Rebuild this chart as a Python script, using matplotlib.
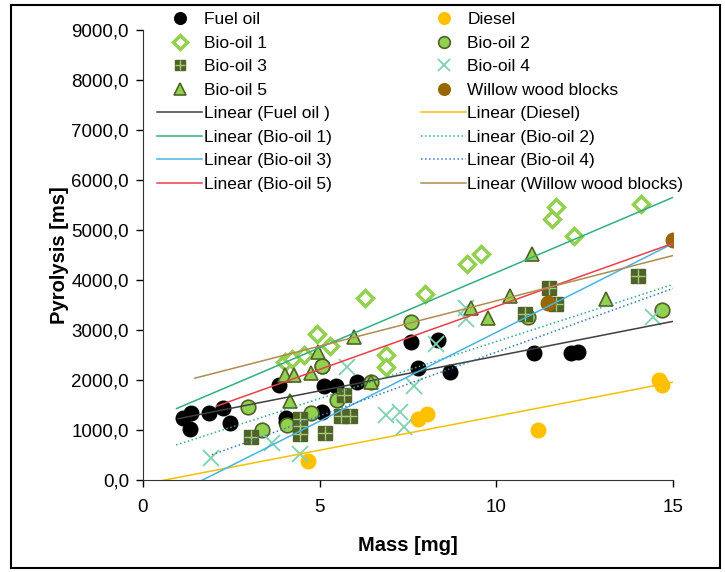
import numpy as np
import matplotlib
matplotlib.use('Agg')
import matplotlib.pyplot as plt
from matplotlib.patches import Rectangle
from matplotlib.ticker import FuncFormatter

plt.rcParams['font.family'] = ['Liberation Sans', 'DejaVu Sans']

# datos (masa en mg, tiempo de pirolisis en ms)
fuel_mass = [1.14, 1.34, 1.37, 1.87, 2.27, 2.46, 3.85, 4.04, 4.04, 5.07, 5.11, 5.07,
             5.46, 6.06, 7.58, 7.78, 8.36, 8.69, 11.08, 12.12, 12.31]
fuel_time = [1250, 1030, 1340, 1340, 1440, 1140, 1910, 1240, 1170, 1360, 1880, 2290,
             1880, 1970, 2760, 2240, 2810, 2170, 2550, 2550, 2570]

diesel_mass = [4.67, 7.78, 8.05, 11.19, 14.6, 14.7]
diesel_time = [380, 1230, 1320, 1010, 2010, 1910]

bio1_mass = [4.03, 4.22, 4.56, 4.93, 5.28, 6.28, 6.87, 6.87, 7.98, 9.17, 9.56,
             11.58, 11.68, 12.19, 14.09]
bio1_time = [2370, 2420, 2500, 2920, 2680, 3650, 2500, 2270, 3720, 4320, 4520,
             5220, 5450, 4880, 5510]

bio2_mass = [2.96, 3.36, 4.07, 4.76, 5.07, 5.49, 6.46, 7.58, 10.89, 14.7]
bio2_time = [1470, 1000, 1110, 1340, 2290, 1610, 1975, 3160, 3270, 3400]

bio3_mass = [3.06, 4.45, 4.45, 4.45, 5.14, 5.59, 5.68, 5.87, 10.81, 11.48, 11.70, 14.01]
bio3_time = [860, 1220, 1090, 930, 950, 1290, 1700, 1290, 3330, 3850, 3520, 4090]

bio4_mass = [1.92, 3.66, 4.45, 5.78, 6.87, 7.27, 7.39, 7.67, 8.29, 9.13, 9.13, 14.44]
bio4_time = [450, 750, 530, 2270, 1300, 1370, 1060, 1880, 2730, 3450, 3220, 3260]

bio5_mass = [4.03, 4.17, 4.26, 4.76, 4.95, 5.97, 6.46, 9.28, 9.77, 10.39, 11.0, 13.1]
bio5_time = [2110, 1580, 2110, 2140, 2560, 2860, 1975, 3450, 3250, 3680, 4520, 3620]

willow_mass = [11.47, 15.0]
willow_time = [3550, 4800]

# lineas de tendencia de Excel: pendiente, ordenada, inicio (todas terminan en 15 mg)
trend_names = ['Fuel oil ', 'Diesel', 'Bio-oil 1', 'Bio-oil 2', 'Bio-oil 3',
               'Bio-oil 4', 'Bio-oil 5', 'Willow wood blocks']
trend_slope = [138.7, 135.8, 300.0, 227.8, 354.6, 254.5, 251.5, 180.9]
trend_intercept = [1095, -74.5, 1150, 495, -589, 16, 960, 1776]
trend_start = [1.0, 0.5, 0.95, 0.94, 1.66, 1.95, 2.08, 1.47]
trend_end = 15.0

fig = plt.figure(figsize=(7.25, 5.72), dpi=100)
ax = fig.add_axes([0.1972, 0.16, 0.7311, 0.7884])

ms = 10.5
h = {}
h['Fuel oil'], = ax.plot(fuel_mass, fuel_time, 'o', color='black', ms=ms, ls='none')
h['Diesel'], = ax.plot(diesel_mass, diesel_time, 'o', color='#FFC000', ms=ms, ls='none')
h['Bio-oil 1'], = ax.plot(bio1_mass, bio1_time, 'D', mfc='white', mec='#92D050',
                          mew=2.5, ms=8.5, ls='none')
h['Bio-oil 2'], = ax.plot(bio2_mass, bio2_time, 'o', mfc='#92D050', mec='#4F6228',
                          mew=1.2, ms=ms, ls='none')
sq, = ax.plot(bio3_mass, bio3_time, 's', mfc='#4F6228', mec='#4F6228', ms=9.5, ls='none')
pl, = ax.plot(bio3_mass, bio3_time, '+', color='#A9C97A', mew=1.0, ms=9.5, ls='none')
h['Bio-oil 3'] = (sq, pl)
h['Bio-oil 4'], = ax.plot(bio4_mass, bio4_time, 'x', color='#7ED3AE', mew=1.3, ms=11,
                          ls='none')
h['Bio-oil 5'], = ax.plot(bio5_mass, bio5_time, '^', mfc='#92D050', mec='#4F6228',
                          mew=1.2, ms=ms, ls='none')
h['Willow wood blocks'], = ax.plot(willow_mass, willow_time, 'o', color='#996600',
                                   ms=ms, ls='none')

trend_colors = ['#404040', '#F5C000', '#30B080', '#40A888', '#45B5E5', '#3C78B8',
                '#E8404A', '#B08B50']
trend_styles = ['-', '-', '-', ':', '-', ':', '-', '-']
for name, m, b, x0, c, st in zip(trend_names, trend_slope, trend_intercept, trend_start,
                                 trend_colors, trend_styles):
    xs = np.array([x0, trend_end])
    h['Linear (' + name + ')'], = ax.plot(xs, m * xs + b, ls=st, color=c, lw=1.1)

ax.set_xlim(0, 15)
ax.set_ylim(0, 9000)
ax.set_xticks([0, 5, 10, 15])
ax.set_yticks(np.arange(0, 9001, 1000))
ax.yaxis.set_major_formatter(FuncFormatter(lambda v, p: f'{v:.1f}'.replace('.', ',')))
ax.tick_params(direction='out', length=5, width=1, labelsize=13.5, colors='black')
ax.tick_params(axis='x', pad=8)
ax.tick_params(axis='y', pad=5)
for s in ['top', 'right']:
    ax.spines[s].set_visible(False)
for s in ['left', 'bottom']:
    ax.spines[s].set_color('#333333')

ax.set_xlabel('Mass [mg]', fontsize=14.5, fontweight='bold', labelpad=15)
ax.set_ylabel('Pyrolysis [ms]', fontsize=14.5, fontweight='bold', labelpad=2)

order = ['Fuel oil', 'Bio-oil 1', 'Bio-oil 3', 'Bio-oil 5',
         'Linear (Fuel oil )', 'Linear (Bio-oil 1)', 'Linear (Bio-oil 3)', 'Linear (Bio-oil 5)',
         'Diesel', 'Bio-oil 2', 'Bio-oil 4', 'Willow wood blocks',
         'Linear (Diesel)', 'Linear (Bio-oil 2)', 'Linear (Bio-oil 4)',
         'Linear (Willow wood blocks)']
leg = fig.legend([h[k] for k in order], order, ncol=2, loc='upper left',
                 bbox_to_anchor=(0.2, 1.0), frameon=False, fontsize=12.5,
                 markerscale=0.8, handlelength=2.6, handletextpad=0.08,
                 columnspacing=5.15, labelspacing=0.48, borderpad=0.2)

fig.patches.append(Rectangle((0.0147, 0.007), 0.9786, 0.9843, transform=fig.transFigure,
                             fill=False, edgecolor='black', lw=1.5))

fig.savefig('out.png', dpi=100)
